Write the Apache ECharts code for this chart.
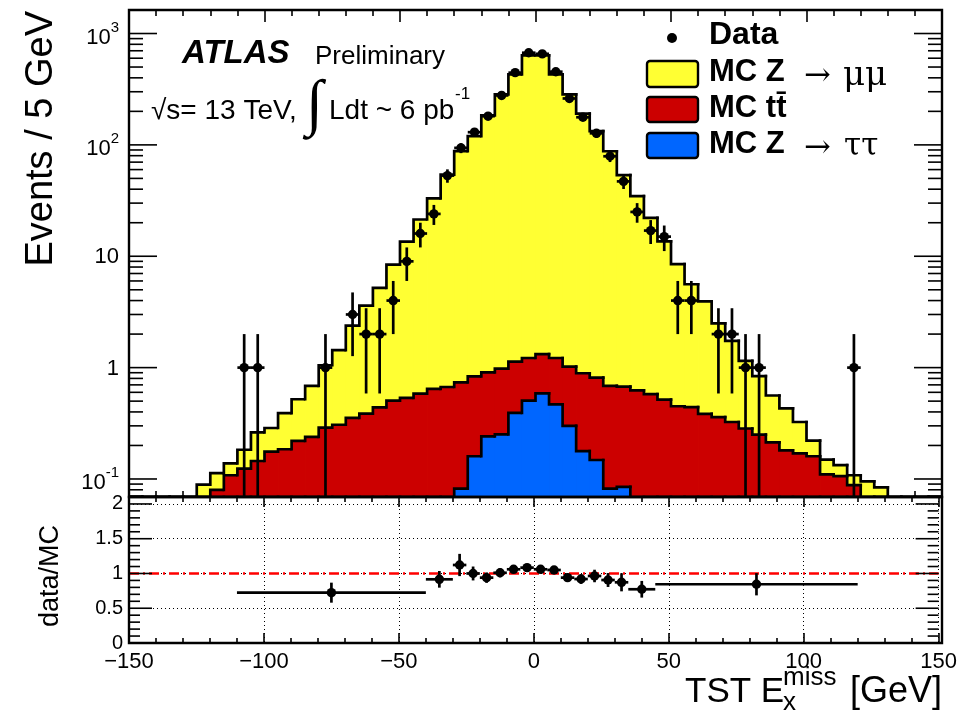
<!DOCTYPE html>
<html>
<head>
<meta charset="utf-8">
<title>TST Ex miss</title>
<script src="https://cdn.jsdelivr.net/npm/echarts@6.0.0/dist/echarts.min.js"></script>
<style>
html, body { margin: 0; padding: 0; background: #ffffff; }
#chart { width: 960px; height: 713px; }
</style>
</head>
<body>
<div id="chart"></div>
<script>
// 5 GeV bins: lower edges in GeV
const binLow = [-150,-145,-140,-135,-130,-125,-120,-115,-110,-105,-100,-95,-90,-85,-80,-75,-70,-65,-60,-55,
  -50,-45,-40,-35,-30,-25,-20,-15,-10,-5,0,5,10,15,20,25,30,35,40,45,
  50,55,60,65,70,75,80,85,90,95,100,105,110,115,120,125,130,135,140,145];

// expected events per bin for each simulated process
const zmumu = [0,0,0,0,0,0.089,0.033,0.030,0.059,0.117,
  0.111,0.205,0.30,0.446,0.761,1.13,2.03,3.22,4.76,7.90,
  13.0,20.8,32.4,53.3,87.3,119,183,283,429,634,
  636,429,283,190,132,87.0,52.8,34.0,21.5,13.1,
  8.05,5.16,3.55,2.14,1.41,0.866,0.590,0.349,0.250,0.155,
  0.061,0.039,0.027,0.020,0.095,0.084,0,0,0,0];
const ttbar = [0,0,0,0,0,0,0.080,0.108,0.124,0.145,
  0.176,0.185,0.22,0.239,0.289,0.307,0.354,0.386,0.44,0.505,
  0.535,0.584,0.643,0.67,0.656,0.676,0.667,0.728,0.738,0.714,
  0.733,0.753,0.72,0.712,0.666,0.603,0.59,0.625,0.577,0.516,
  0.45,0.442,0.384,0.36,0.325,0.284,0.25,0.213,0.181,0.17,
  0.16,0.11,0.106,0.088,0,0,0,0,0,0];
const ztautau = [0,0,0,0,0,0,0,0,0,0,
  0,0,0,0,0,0,0,0,0,0,
  0,0,0,0,0.082,0.16,0.241,0.252,0.392,0.506,
  0.587,0.467,0.30,0.178,0.148,0.082,0.085,0,0,0,
  0,0,0,0,0,0,0,0,0,0,
  0,0,0,0,0,0,0,0,0,0];
// observed events per bin
const dataCounts = [0,0,0,0,0,0,0,0,1,1,
  0,0,0,0,1,0,3,2,2,4,
  9,16,24,53,94,130,181,278,445,672,
  657,454,261,177,127,79,47,25,17,15,
  4,4,0,2,2,1,1,0,0,0,
  0,0,0,1,0,0,0,0,0,0];

// data / MC in merged bins
const ratioLow   = [-110,-40,-30,-25,-20,-15,-10,-5,0,5,10,15,20,25,30,35,45];
const ratioHigh  = [-40,-30,-25,-20,-15,-10,-5,0,5,10,15,20,25,30,35,45,120];
const ratioValue = [0.724,0.916,1.122,1.0,0.94,1.01,1.06,1.084,1.06,1.05,0.94,0.92,0.964,0.906,0.873,0.773,0.845];
const ratioError = [0.144,0.12,0.16,0.10,0.075,0.065,0.05,0.042,0.042,0.05,0.06,0.07,0.09,0.10,0.13,0.12,0.16];

// axis ticks
const xTicks = [-150,-100,-50,0,50,100,150];
const logDecades = [-1,0,1,2,3];
const ratioTickLabels = ['0','0.5','1','1.5','2'];

const BIN_W = 5;
const FONT = "'Liberation Sans', Arial, Helvetica, sans-serif";
const SERIF = "'Liberation Serif', 'DejaVu Serif', serif";
const GREEK = "'DejaVu Serif', 'Liberation Serif', serif";
const Y_MIN = 0.0689, Y_MAX = 1626;
const COL_ZMM = '#ffff33', COL_TT = '#cc0000', COL_ZTT = '#0066ff';

// stacking: Z->tautau at the bottom, ttbar on top of it, Z->mumu last
const cumTautau = ztautau.slice();
const cumTtbar = ztautau.map((v, i) => v + ttbar[i]);
const cumTotal = cumTtbar.map((v, i) => v + zmumu[i]);

const measureCtx = document.createElement('canvas').getContext('2d');
function textWidth(s, font) { measureCtx.font = font; return measureCtx.measureText(s).width; }

const clampLog = v => (v > Y_MIN ? Math.min(v, Y_MAX * 2) : Y_MIN);

function histSeries(name, cum, color, z) {
  return {
    type: 'custom', name, xAxisIndex: 0, yAxisIndex: 0, z, clip: true, silent: true,
    data: binLow.map((lo, i) => [lo, lo + BIN_W, cum[i], i > 0 ? cum[i - 1] : 0]),
    encode: { x: [0, 1], y: 2 },
    renderItem(params, api) {
      const lo = api.value(0), hi = api.value(1);
      const raw = api.value(2);
      const top = clampLog(raw), prev = clampLog(api.value(3));
      const pTL = api.coord([lo, top]);
      const pTR = api.coord([hi, top]);
      const pBot = api.coord([hi, Y_MIN]);
      const pPrev = api.coord([lo, prev]);
      const children = [];
      if (raw > 0) {
        // a little overlap into the next bin hides anti-aliasing seams
        children.push({ type: 'rect', shape: { x: pTL[0], y: pTL[1], width: pBot[0] - pTL[0] + 0.8, height: pBot[1] - pTL[1] },
          style: { fill: color } });
      }
      children.push({ type: 'polyline', shape: { points: [pPrev, pTL, pTR] },
        style: { stroke: '#000', lineWidth: 2.7, fill: null, lineJoin: 'miter', lineCap: 'square' } });
      return { type: 'group', children };
    }
  };
}

// log-axis ticks (2..9 minor) and decade labels, both sides of the upper frame
const logTickData = [];
for (let e = -2; e <= 3; e++) {
  for (let m = 1; m <= 9; m++) {
    const v = m * Math.pow(10, e);
    if (v >= Y_MIN && v <= Y_MAX) logTickData.push([-150, v, m, e]);
  }
}
const LABEL_FONT = '22px ' + FONT;
const SUP_FONT = '15px ' + FONT;

const logTickSeries = {
  type: 'custom', xAxisIndex: 0, yAxisIndex: 0, z: 20, clip: false, silent: true,
  data: logTickData, encode: { x: 0, y: 1 },
  renderItem(params, api) {
    const v = api.value(1), m = api.value(2), e = api.value(3);
    const pL = api.coord([-150, v]);
    const pR = api.coord([150, v]);
    const len = m === 1 ? 28 : 14;
    const stroke = { stroke: '#000', lineWidth: 1.6 };
    const children = [
      { type: 'line', shape: { x1: pL[0], y1: pL[1], x2: pL[0] + len, y2: pL[1] }, style: stroke },
      { type: 'line', shape: { x1: pR[0], y1: pR[1], x2: pR[0] - len, y2: pR[1] }, style: stroke }
    ];
    if (m === 1 && logDecades.indexOf(e) >= 0) {
      const right = pL[0] - 10;
      if (e === 0 || e === 1) {
        children.push({ type: 'text', style: { text: e === 0 ? '1' : '10', font: LABEL_FONT, fill: '#000',
          x: right, y: pL[1] + 1, align: 'right', verticalAlign: 'middle' } });
      } else {
        const sup = e < 0 ? '-' + (-e) : String(e);
        const w = textWidth(sup, SUP_FONT);
        children.push({ type: 'text', style: { text: '10', font: LABEL_FONT, fill: '#000',
          x: right - w, y: pL[1] + 4, align: 'right', verticalAlign: 'middle' } });
        children.push({ type: 'text', style: { text: sup, font: SUP_FONT, fill: '#000',
          x: right - w, y: pL[1] - 6, align: 'left', verticalAlign: 'middle' } });
      }
    }
    return { type: 'group', children };
  }
};

const dataSeries = {
  type: 'custom', xAxisIndex: 0, yAxisIndex: 0, z: 15, clip: true, silent: true,
  data: binLow.map((lo, i) => [lo + BIN_W / 2, dataCounts[i]]).filter(d => d[1] > 0),
  encode: { x: 0, y: 1 },
  renderItem(params, api) {
    const x = api.value(0), n = api.value(1), err = Math.sqrt(n);
    const c = api.coord([x, n]);
    const up = api.coord([x, n + err]);
    const dn = api.coord([x, Math.max(n - err, Y_MIN)]);
    const l = api.coord([x - BIN_W / 2, n]);
    const r = api.coord([x + BIN_W / 2, n]);
    const st = { stroke: '#000', lineWidth: 2.7 };
    return { type: 'group', children: [
      { type: 'line', shape: { x1: up[0], y1: up[1], x2: dn[0], y2: dn[1] }, style: st },
      { type: 'line', shape: { x1: l[0], y1: l[1], x2: r[0], y2: r[1] }, style: st },
      { type: 'circle', shape: { cx: c[0], cy: c[1], r: 4.7 }, style: { fill: '#000' } }
    ] };
  }
};

const ratioSeries = {
  type: 'custom', xAxisIndex: 2, yAxisIndex: 1, z: 15, clip: true, silent: true,
  data: ratioValue.map((v, i) => [(ratioLow[i] + ratioHigh[i]) / 2, v, ratioLow[i], ratioHigh[i], ratioError[i]]),
  encode: { x: 0, y: 1 },
  renderItem(params, api) {
    const x = api.value(0), v = api.value(1), lo = api.value(2), hi = api.value(3), err = api.value(4);
    const c = api.coord([x, v]);
    const up = api.coord([x, v + err]);
    const dn = api.coord([x, v - err]);
    const l = api.coord([lo, v]);
    const r = api.coord([hi, v]);
    const st = { stroke: '#000', lineWidth: 2.7 };
    return { type: 'group', children: [
      { type: 'line', shape: { x1: up[0], y1: up[1], x2: dn[0], y2: dn[1] }, style: st },
      { type: 'line', shape: { x1: l[0], y1: l[1], x2: r[0], y2: r[1] }, style: st },
      { type: 'circle', shape: { cx: c[0], cy: c[1], r: 4.7 }, style: { fill: '#000' } }
    ] };
  }
};

// y ticks of the ratio panel every 0.1, longer at each labelled value
const ratioTickData = [];
for (let k = 0; k <= 21; k++) ratioTickData.push([-150, k / 10, k % 5 === 0 ? 1 : 0]);
const ratioTickSeries = {
  type: 'custom', xAxisIndex: 2, yAxisIndex: 1, z: 20, clip: false, silent: true,
  data: ratioTickData, encode: { x: 0, y: 1 },
  renderItem(params, api) {
    const v = api.value(1), major = api.value(2) === 1;
    const pL = api.coord([-150, v]);
    const pR = api.coord([150, v]);
    const len = major ? 23 : 11;
    const st = { stroke: '#000', lineWidth: 1.6 };
    return { type: 'group', children: [
      { type: 'line', shape: { x1: pL[0], y1: pL[1], x2: pL[0] + len, y2: pL[1] }, style: st },
      { type: 'line', shape: { x1: pR[0], y1: pR[1], x2: pR[0] - len, y2: pR[1] }, style: st }
    ] };
  }
};

function xAxisDef(gridIndex, position, major, minor, labels, grid) {
  return {
    type: 'value', gridIndex, position, min: xTicks[0], max: xTicks[xTicks.length - 1], interval: 50,
    axisLine: { show: false },
    axisTick: { show: true, inside: true, length: major, lineStyle: { color: '#000', width: 1.6 } },
    minorTick: { show: true, splitNumber: 5, length: minor, lineStyle: { color: '#000', width: 1.6 } },
    axisLabel: labels ? {
      show: true, color: '#000', fontFamily: FONT, fontSize: 22, margin: 8,
      formatter: v => (v < 0 ? '\u2212' + Math.abs(v) : String(v))
    } : { show: false },
    splitLine: grid ? { show: true, lineStyle: { color: '#000', width: 1, type: [1, 3] } } : { show: false },
    minorSplitLine: { show: false }
  };
}

const option = {
  animation: false,
  backgroundColor: '#ffffff',
  grid: [
    { left: 129, top: 10, width: 813, height: 487, show: false },
    { left: 129, top: 497, width: 813, height: 146, show: false }
  ],
  xAxis: [
    xAxisDef(0, 'bottom', 12, 6, false, false),
    xAxisDef(0, 'top', 12, 6, false, false),
    xAxisDef(1, 'bottom', 10, 5, true, true),
    xAxisDef(1, 'top', 10, 5, false, false)
  ],
  yAxis: [
    { type: 'log', logBase: 10, gridIndex: 0, min: Y_MIN, max: Y_MAX,
      axisLine: { show: false }, axisTick: { show: false }, axisLabel: { show: false }, splitLine: { show: false } },
    { type: 'value', gridIndex: 1, min: 0, max: 2.1, interval: 0.5,
      axisLine: { show: false }, axisTick: { show: false },
      axisLabel: { show: true, color: '#000', fontFamily: FONT, fontSize: 20, margin: 6, showMaxLabel: false,
        formatter: v => { const i = Math.round(v / 0.5); return (Math.abs(v - i * 0.5) < 1e-6 && ratioTickLabels[i]) || ''; } },
      splitLine: { show: true, lineStyle: { color: '#000', width: 1, type: [1, 3] } } }
  ],
  series: [
    histSeries('MC Z \u2192 \u03bc\u03bc', cumTotal, COL_ZMM, 2),
    histSeries('MC tt\u0304', cumTtbar, COL_TT, 3),
    histSeries('MC Z \u2192 \u03c4\u03c4', cumTautau, COL_ZTT, 4),
    logTickSeries,
    dataSeries,
    {
      type: 'line', xAxisIndex: 2, yAxisIndex: 1, z: 5, symbol: 'none', silent: true,
      data: [[-150, 1], [150, 1]],
      lineStyle: { color: '#ff0000', width: 2.4, type: [10, 4, 2, 4] }
    },
    ratioSeries,
    ratioTickSeries
  ],
  graphic: [
    // frames of both panels
    { type: 'rect', z: 50, shape: { x: 129, y: 10, width: 813, height: 487 }, style: { fill: null, stroke: '#000', lineWidth: 2.4 } },
    { type: 'rect', z: 50, shape: { x: 129, y: 497, width: 813, height: 146 }, style: { fill: null, stroke: '#000', lineWidth: 2.4 } },

    // axis titles
    { type: 'text', z: 50, x: 42, y: 11, rotation: Math.PI / 2,
      style: { text: 'Events / 5 GeV', font: '38px ' + FONT, fill: '#000', align: 'right', verticalAlign: 'middle' } },
    { type: 'text', z: 50, x: 51, y: 576, rotation: Math.PI / 2,
      style: { text: 'data/MC', font: '27px ' + FONT, fill: '#000', align: 'center', verticalAlign: 'middle' } },
    { type: 'text', z: 50, x: 685, y: 692,
      style: { text: 'TST E', font: '35px ' + FONT, fill: '#000', align: 'left', verticalAlign: 'middle' } },
    { type: 'text', z: 50, x: 783, y: 678,
      style: { text: 'miss', font: '26px ' + FONT, fill: '#000', align: 'left', verticalAlign: 'middle' } },
    { type: 'text', z: 50, x: 783, y: 703,
      style: { text: 'x', font: '26px ' + FONT, fill: '#000', align: 'left', verticalAlign: 'middle' } },
    { type: 'text', z: 50, x: 942, y: 692,
      style: { text: '[GeV]', font: '36px ' + FONT, fill: '#000', align: 'right', verticalAlign: 'middle' } },

    // ATLAS label
    { type: 'text', z: 50, x: 182, y: 54,
      style: { text: 'ATLAS', font: 'italic bold 33px ' + FONT, fill: '#000', align: 'left', verticalAlign: 'middle' } },
    { type: 'text', z: 50, x: 315, y: 57,
      style: { text: 'Preliminary', font: '26px ' + FONT, fill: '#000', align: 'left', verticalAlign: 'middle' } },
    { type: 'text', z: 50, x: 151, y: 111,
      style: { text: '\u221as= 13 TeV,', font: '28px ' + FONT, fill: '#000', align: 'left', verticalAlign: 'middle' } },
    { type: 'text', z: 50, x: 306, y: 107,
      style: { text: '\u222b', font: '62px ' + SERIF, fill: '#000', align: 'left', verticalAlign: 'middle' } },
    { type: 'text', z: 50, x: 329, y: 111,
      style: { text: 'Ldt ~ 6 pb', font: '28px ' + FONT, fill: '#000', align: 'left', verticalAlign: 'middle' } },
    { type: 'text', z: 50, x: 455, y: 94,
      style: { text: '-1', font: '17px ' + FONT, fill: '#000', align: 'left', verticalAlign: 'middle' } },

    // legend
    { type: 'circle', z: 50, shape: { cx: 672, cy: 38, r: 5 }, style: { fill: '#000' } },
    { type: 'text', z: 50, x: 709, y: 35,
      style: { text: 'Data', font: 'bold 32px ' + FONT, fill: '#000', align: 'left', verticalAlign: 'middle' } },
    { type: 'rect', z: 50, shape: { x: 647, y: 61, width: 51, height: 26, r: 3 }, style: { fill: COL_ZMM, stroke: '#000', lineWidth: 2.4 } },
    { type: 'rect', z: 50, shape: { x: 647, y: 97, width: 51, height: 25, r: 3 }, style: { fill: COL_TT, stroke: '#000', lineWidth: 2.4 } },
    { type: 'rect', z: 50, shape: { x: 647, y: 133, width: 51, height: 25, r: 3 }, style: { fill: COL_ZTT, stroke: '#000', lineWidth: 2.4 } },
    { type: 'text', z: 50, x: 709, y: 72,
      style: { text: 'MC Z', font: 'bold 31px ' + FONT, fill: '#000', align: 'left', verticalAlign: 'middle' } },
    { type: 'text', z: 50, x: 804, y: 77,
      style: { text: '\u2192', font: '32px ' + GREEK, fill: '#000', align: 'left', verticalAlign: 'middle' } },
    { type: 'text', z: 50, x: 843, y: 76,
      style: { text: '\u03bc\u03bc', font: '34px ' + GREEK, fill: '#000', align: 'left', verticalAlign: 'middle' } },
    { type: 'text', z: 50, x: 709, y: 108,
      style: { text: 'MC tt\u0304', font: 'bold 31px ' + FONT, fill: '#000', align: 'left', verticalAlign: 'middle' } },
    { type: 'text', z: 50, x: 709, y: 144,
      style: { text: 'MC Z', font: 'bold 31px ' + FONT, fill: '#000', align: 'left', verticalAlign: 'middle' } },
    { type: 'text', z: 50, x: 804, y: 149,
      style: { text: '\u2192', font: '32px ' + GREEK, fill: '#000', align: 'left', verticalAlign: 'middle' } },
    { type: 'text', z: 50, x: 844, y: 147,
      style: { text: '\u03c4\u03c4', font: '31px ' + GREEK, fill: '#000', align: 'left', verticalAlign: 'middle' } }
  ]
};

const chart = echarts.init(document.getElementById('chart'), null, { renderer: 'canvas', width: 960, height: 713 });
chart.setOption(option);
</script>
</body>
</html>
